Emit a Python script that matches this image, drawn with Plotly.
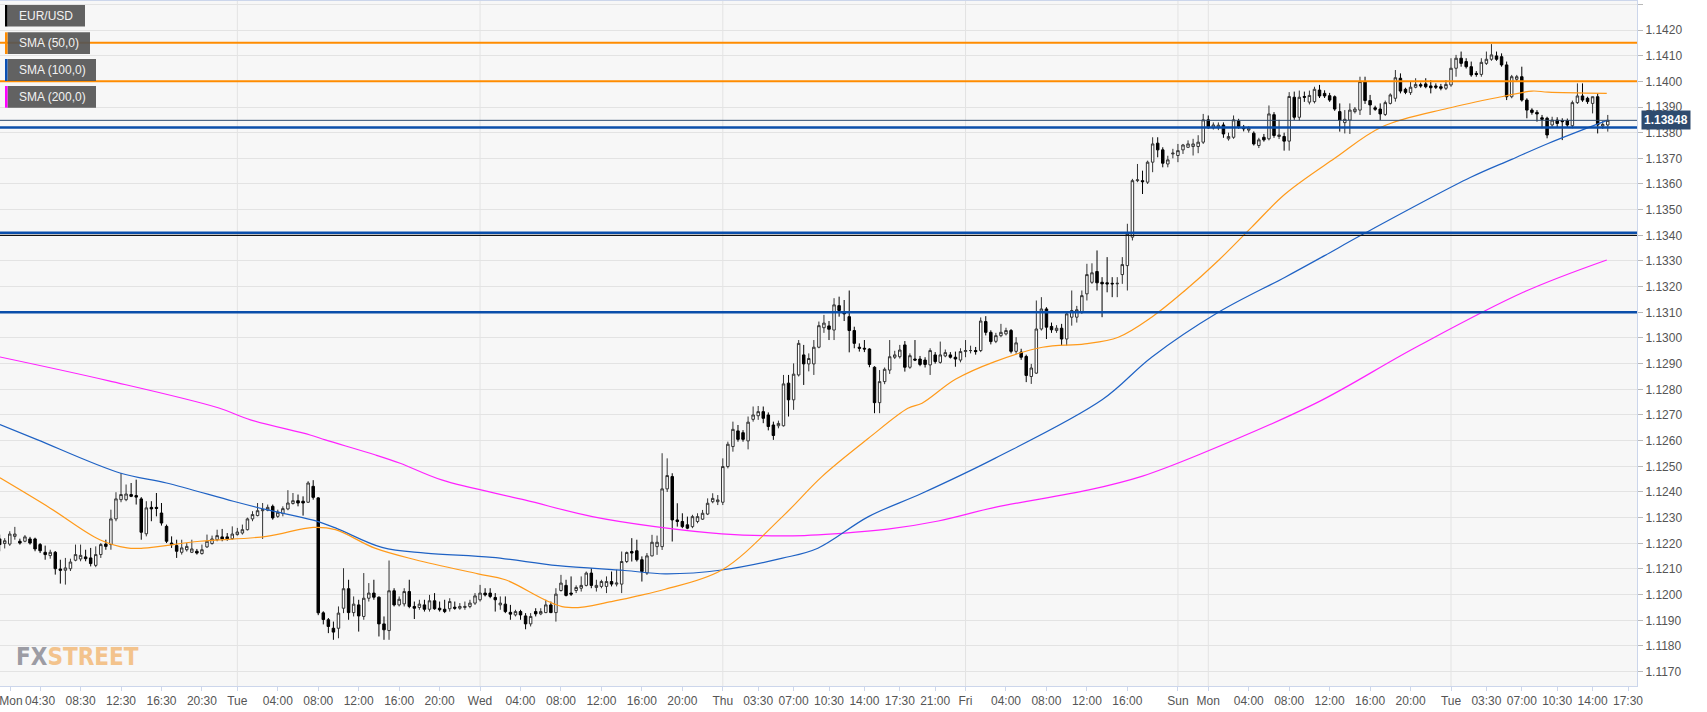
import plotly.graph_objects as go

# ---------------- DATA (EUR/USD, 30-minute bars) ----------------
# x positions: trading hours since Monday 00:00 (weekend gap removed)
bar_hours = 0.5

opens = [
1.12217,1.12199,1.12197,1.12227,1.12208,1.12208,1.12217,1.12217,1.12195,1.12165,
1.12152,1.12165,1.12100,1.12095,1.12101,1.12134,1.12139,1.12147,1.12143,1.12114,
1.12156,1.12197,1.12195,1.12295,1.12370,1.12370,1.12390,1.12386,1.12373,1.12237,
1.12340,1.12340,1.12318,1.12266,1.12201,1.12191,1.12165,1.12175,1.12165,1.12169,
1.12160,1.12186,1.12199,1.12214,1.12225,1.12225,1.12218,1.12234,1.12240,1.12253,
1.12295,1.12308,1.12327,1.12329,1.12344,1.12305,1.12316,1.12334,1.12355,1.12366,
1.12364,1.12360,1.12422,1.12377,1.11929,1.11902,1.11869,1.11869,1.11947,1.12023,
1.11930,1.11960,1.11915,1.11986,1.12006,1.11990,1.11886,1.11860,1.12015,1.11960,
1.11964,1.12012,1.11954,1.11950,1.11960,1.11943,1.11976,1.11947,1.11943,1.11945,
1.11951,1.11947,1.11950,1.11954,1.11967,1.11980,1.12006,1.12006,1.11989,1.11960,
1.11963,1.11931,1.11921,1.11934,1.11917,1.11886,1.11934,1.11925,1.11930,1.11960,
1.11930,1.12016,1.12036,1.12006,1.12016,1.12025,1.12036,1.12084,1.12028,1.12032,
1.12032,1.12051,1.12041,1.12041,1.12129,1.12168,1.12171,1.12136,1.12084,1.12151,
1.12187,1.12187,1.12412,1.12460,1.12291,1.12285,1.12272,1.12265,1.12285,1.12294,
1.12314,1.12362,1.12362,1.12360,1.12499,1.12577,1.12638,1.12631,1.12599,1.12683,
1.12697,1.12713,1.12700,1.12661,1.12658,1.12658,1.12824,1.12759,1.12856,1.12934,
1.12899,1.12899,1.12964,1.13040,1.13047,1.13031,1.13126,1.13103,1.13083,1.13029,
1.12964,1.12960,1.12957,1.12886,1.12748,1.12830,1.12875,1.12925,1.12927,1.12973,
1.12886,1.12918,1.12918,1.12914,1.12895,1.12934,1.12905,1.12930,1.12934,1.12925,
1.12914,1.12947,1.12951,1.12951,1.12951,1.13064,1.13022,1.12987,1.13009,1.13016,
1.13029,1.12948,1.12945,1.12928,1.12850,1.12863,1.13035,1.13113,1.13045,1.13029,
1.13038,1.12996,1.13081,1.13081,1.13100,1.13172,1.13217,1.13259,1.13217,1.13215,
1.13213,1.13211,1.13247,1.13282,1.13393,1.13613,1.13613,1.13607,1.13685,1.13759,
1.13733,1.13678,1.13717,1.13711,1.13733,1.13743,1.13746,1.13746,1.13763,1.13850,
1.13819,1.13819,1.13830,1.13776,1.13782,1.13845,1.13821,1.13810,1.13798,1.13750,
1.13782,1.13776,1.13870,1.13785,1.13785,1.13767,1.13938,1.13860,1.13941,1.13919,
1.13921,1.13966,1.13953,1.13944,1.13940,1.13882,1.13839,1.13849,1.13882,1.13888,
1.13999,1.13925,1.13897,1.13892,1.13871,1.13914,1.13934,1.14012,1.13969,1.13956,
1.13977,1.13987,1.13990,1.13982,1.13982,1.13979,1.13973,1.13986,1.14051,1.14090,
1.14077,1.14057,1.14031,1.14027,1.14070,1.14086,1.14099,1.14096,1.14064,1.13940,
1.14008,1.14018,1.13927,1.13888,1.13879,1.13858,1.13856,1.13830,1.13849,1.13847,
1.13847,1.13827,1.13917,1.13943,1.13934,1.13914,1.13940,1.13826,1.13830]

highs = [
1.12234,1.12220,1.12247,1.12264,1.12218,1.12232,1.12225,1.12222,1.12201,1.12191,
1.12175,1.12170,1.12136,1.12143,1.12140,1.12195,1.12195,1.12175,1.12182,1.12188,
1.12201,1.12214,1.12331,1.12399,1.12474,1.12429,1.12435,1.12448,1.12380,1.12364,
1.12364,1.12396,1.12357,1.12273,1.12227,1.12214,1.12214,1.12201,1.12214,1.12178,
1.12195,1.12234,1.12230,1.12253,1.12256,1.12240,1.12266,1.12260,1.12273,1.12300,
1.12325,1.12357,1.12357,1.12351,1.12351,1.12331,1.12344,1.12407,1.12396,1.12390,
1.12383,1.12442,1.12446,1.12380,1.11935,1.11909,1.11895,1.11954,1.12103,1.12058,
1.11993,1.11980,1.12084,1.12045,1.12058,1.11993,1.11915,1.12133,1.12025,1.11993,
1.12025,1.12058,1.11973,1.11980,1.11980,1.11999,1.12006,1.11973,1.11980,1.11986,
1.11973,1.11967,1.11973,1.11980,1.12006,1.12038,1.12025,1.12025,1.12006,1.11993,
1.11993,1.11960,1.11941,1.11941,1.11928,1.11928,1.11947,1.11947,1.11980,1.11973,
1.12025,1.12077,1.12058,1.12071,1.12036,1.12071,1.12090,1.12103,1.12058,1.12058,
1.12071,1.12090,1.12097,1.12168,1.12168,1.12220,1.12214,1.12149,1.12162,1.12233,
1.12230,1.12551,1.12531,1.12473,1.12356,1.12317,1.12304,1.12311,1.12317,1.12330,
1.12375,1.12395,1.12388,1.12531,1.12596,1.12674,1.12661,1.12641,1.12694,1.12733,
1.12735,1.12733,1.12710,1.12674,1.12678,1.12856,1.12856,1.12901,1.12992,1.12973,
1.12940,1.12992,1.13064,1.13090,1.13066,1.13155,1.13161,1.13148,1.13185,1.13044,
1.12979,1.12992,1.12960,1.12890,1.12875,1.12885,1.12992,1.12950,1.12973,1.12988,
1.12940,1.12992,1.12930,1.12925,1.12960,1.12945,1.12986,1.12955,1.12945,1.12947,
1.12960,1.12992,1.12970,1.12965,1.13080,1.13085,1.13030,1.13020,1.13055,1.13040,
1.13035,1.13003,1.12958,1.12935,1.12899,1.13146,1.13159,1.13120,1.13060,1.13050,
1.13055,1.13100,1.13185,1.13125,1.13185,1.13289,1.13291,1.13341,1.13237,1.13315,
1.13237,1.13237,1.13315,1.13445,1.13620,1.13678,1.13652,1.13691,1.13782,1.13782,
1.13743,1.13710,1.13737,1.13756,1.13756,1.13770,1.13776,1.13790,1.13873,1.13867,
1.13840,1.13840,1.13840,1.13800,1.13867,1.13854,1.13830,1.13825,1.13805,1.13780,
1.13795,1.13906,1.13880,1.13850,1.13800,1.13958,1.13960,1.13964,1.13960,1.13964,
1.13979,1.13986,1.13965,1.13955,1.13945,1.13914,1.13888,1.13914,1.13900,1.14018,
1.14018,1.13947,1.13905,1.13914,1.13925,1.13953,1.14044,1.14031,1.13975,1.13999,
1.14012,1.13995,1.14012,1.14005,1.13992,1.13990,1.14005,1.14090,1.14103,1.14116,
1.14090,1.14077,1.14040,1.14090,1.14116,1.14145,1.14116,1.14109,1.14077,1.14025,
1.14025,1.14057,1.13934,1.13895,1.13888,1.13869,1.13862,1.13862,1.13860,1.13856,
1.13855,1.13925,1.13992,1.13992,1.13940,1.13940,1.13953,1.13845,1.13869]

lows = [
1.12169,1.12180,1.12190,1.12214,1.12195,1.12204,1.12195,1.12169,1.12162,1.12136,
1.12140,1.12078,1.12043,1.12039,1.12092,1.12130,1.12130,1.12130,1.12110,1.12107,
1.12143,1.12175,1.12175,1.12286,1.12360,1.12364,1.12380,1.12351,1.12214,1.12227,
1.12286,1.12305,1.12269,1.12201,1.12182,1.12143,1.12156,1.12168,1.12162,1.12156,
1.12156,1.12182,1.12195,1.12208,1.12208,1.12210,1.12214,1.12230,1.12234,1.12250,
1.12286,1.12305,1.12217,1.12325,1.12292,1.12299,1.12305,1.12329,1.12351,1.12344,
1.12308,1.12357,1.12370,1.11920,1.11884,1.11850,1.11824,1.11830,1.11928,1.11902,
1.11915,1.11856,1.11902,1.11973,1.11980,1.11837,1.11824,1.11824,1.11954,1.11954,
1.11954,1.11947,1.11905,1.11941,1.11934,1.11934,1.11941,1.11934,1.11928,1.11934,
1.11941,1.11941,1.11941,1.11947,1.11960,1.11973,1.11993,1.11986,1.11934,1.11941,
1.11928,1.11902,1.11915,1.11902,1.11865,1.11876,1.11915,1.11920,1.11928,1.11928,
1.11895,1.12012,1.11993,1.11995,1.12006,1.12012,1.12032,1.12025,1.12012,1.12025,
1.12006,1.12032,1.12032,1.12006,1.12123,1.12129,1.12129,1.12051,1.12077,1.12149,
1.12155,1.12174,1.12400,1.12207,1.12265,1.12259,1.12255,1.12259,1.12278,1.12291,
1.12310,1.12356,1.12349,1.12349,1.12492,1.12557,1.12596,1.12596,1.12566,1.12674,
1.12681,1.12668,1.12640,1.12603,1.12648,1.12655,1.12694,1.12720,1.12850,1.12817,
1.12870,1.12856,1.12960,1.13020,1.12992,1.12992,1.13083,1.13066,1.12944,1.12960,
1.12947,1.12945,1.12886,1.12707,1.12707,1.12820,1.12860,1.12918,1.12920,1.12869,
1.12880,1.12910,1.12890,1.12885,1.12856,1.12900,1.12900,1.12925,1.12920,1.12888,
1.12905,1.12925,1.12940,1.12935,1.12945,1.13010,1.12975,1.12980,1.13003,1.13010,
1.12940,1.12938,1.12915,1.12828,1.12821,1.12860,1.13029,1.12996,1.13020,1.13020,
1.12971,1.12971,1.13048,1.13060,1.13094,1.13146,1.13211,1.13185,1.13081,1.13178,
1.13159,1.13159,1.13211,1.13185,1.13380,1.13607,1.13561,1.13600,1.13646,1.13704,
1.13665,1.13665,1.13700,1.13685,1.13717,1.13740,1.13711,1.13720,1.13756,1.13815,
1.13812,1.13810,1.13780,1.13769,1.13776,1.13815,1.13805,1.13800,1.13750,1.13740,
1.13765,1.13770,1.13780,1.13775,1.13730,1.13730,1.13850,1.13847,1.13920,1.13910,
1.13914,1.13935,1.13935,1.13920,1.13885,1.13804,1.13797,1.13795,1.13875,1.13869,
1.13912,1.13869,1.13885,1.13849,1.13865,1.13910,1.13921,1.13953,1.13950,1.13947,
1.13973,1.13975,1.13973,1.13953,1.13970,1.13965,1.13966,1.13979,1.14018,1.14057,
1.14050,1.14018,1.14018,1.14018,1.14064,1.14080,1.14080,1.14057,1.13927,1.13934,
1.14000,1.13921,1.13856,1.13870,1.13843,1.13817,1.13778,1.13823,1.13820,1.13771,
1.13820,1.13817,1.13912,1.13920,1.13912,1.13875,1.13797,1.13815,1.13804]

closes = [
1.12195,1.12210,1.12236,1.12236,1.12201,1.12225,1.12201,1.12178,1.12171,1.12156,
1.12165,1.12101,1.12095,1.12104,1.12127,1.12156,1.12153,1.12140,1.12121,1.12156,
1.12195,1.12188,1.12295,1.12373,1.12390,1.12392,1.12383,1.12380,1.12243,1.12338,
1.12334,1.12336,1.12279,1.12208,1.12195,1.12169,1.12182,1.12188,1.12178,1.12162,
1.12175,1.12208,1.12217,1.12230,1.12217,1.12217,1.12236,1.12244,1.12253,1.12295,
1.12312,1.12327,1.12331,1.12340,1.12299,1.12321,1.12335,1.12357,1.12366,1.12357,
1.12357,1.12435,1.12379,1.11929,1.11903,1.11876,1.11854,1.11928,1.12023,1.11930,
1.11963,1.11917,1.11986,1.12006,1.11990,1.11886,1.11863,1.12015,1.11960,1.11982,
1.12012,1.11954,1.11947,1.11963,1.11943,1.11976,1.11945,1.11941,1.11934,1.11973,
1.11947,1.11954,1.11954,1.11967,1.11995,1.12006,1.11999,1.11993,1.11980,1.11967,
1.11934,1.11924,1.11934,1.11921,1.11886,1.11915,1.11925,1.11934,1.11960,1.11930,
1.12002,1.12045,1.11997,1.12002,1.12028,1.12036,1.12084,1.12036,1.12036,1.12051,
1.12051,1.12041,1.12045,1.12129,1.12164,1.12162,1.12136,1.12090,1.12151,1.12204,
1.12204,1.12412,1.12464,1.12291,1.12285,1.12265,1.12259,1.12304,1.12304,1.12317,
1.12356,1.12375,1.12369,1.12499,1.12586,1.12644,1.12605,1.12605,1.12672,1.12700,
1.12713,1.12687,1.12655,1.12620,1.12667,1.12821,1.12759,1.12859,1.12979,1.12899,
1.12920,1.12964,1.13048,1.13058,1.13034,1.13129,1.13107,1.13094,1.13029,1.12979,
1.12960,1.12957,1.12897,1.12748,1.12830,1.12878,1.12927,1.12934,1.12953,1.12886,
1.12931,1.12914,1.12897,1.12897,1.12951,1.12908,1.12934,1.12943,1.12925,1.12918,
1.12947,1.12951,1.12951,1.12947,1.13066,1.13022,1.12986,1.13009,1.13022,1.13029,
1.12948,1.12981,1.12925,1.12854,1.12883,1.13035,1.13113,1.13042,1.13032,1.13038,
1.12996,1.13094,1.13107,1.13110,1.13165,1.13247,1.13254,1.13215,1.13211,1.13211,
1.13211,1.13213,1.13286,1.13406,1.13613,1.13616,1.13609,1.13685,1.13756,1.13733,
1.13681,1.13694,1.13720,1.13730,1.13752,1.13756,1.13756,1.13763,1.13850,1.13819,
1.13830,1.13829,1.13795,1.13785,1.13850,1.13824,1.13815,1.13817,1.13756,1.13772,
1.13772,1.13873,1.13789,1.13791,1.13767,1.13941,1.13860,1.13938,1.13938,1.13945,
1.13969,1.13943,1.13943,1.13927,1.13892,1.13849,1.13852,1.13888,1.13892,1.13999,
1.13925,1.13908,1.13891,1.13873,1.13917,1.13947,1.14014,1.13962,1.13957,1.13977,
1.13988,1.13982,1.13979,1.13975,1.13977,1.13973,1.13988,1.14051,1.14090,1.14070,
1.14057,1.14025,1.14027,1.14074,1.14086,1.14103,1.14086,1.14064,1.13940,1.14018,
1.14018,1.13927,1.13888,1.13879,1.13873,1.13852,1.13791,1.13849,1.13836,1.13843,
1.13830,1.13917,1.13943,1.13927,1.13921,1.13940,1.13830,1.13832,1.13848]

times = [bar_hours * (i + 1) for i in range(len(opens))]

# Moving averages (hours, price)
sma50_t = [0.53, 5.5, 10.4, 13.1, 14.7, 20.3, 26.9, 31.5, 33.7, 37.6, 41.6, 47.8, 50.5, 56.4, 61.0,
           63.6, 66.3, 71.9, 77.9, 81.8, 86.4, 90.3, 91.7, 95.0, 98.9, 103.6, 107.8, 111.1, 114.4,
           117.7, 121.0, 124.3, 127.6, 132.5, 137.2, 143.7, 149.0, 152.0, 153.6, 159.4]
sma50_v = [1.12455, 1.12337, 1.12214, 1.12182, 1.12181, 1.12208, 1.12227, 1.12262, 1.12253, 1.12181,
           1.12136, 1.12081, 1.12058, 1.11951, 1.11973, 1.11995, 1.12021, 1.12096, 1.12304, 1.12460,
           1.12609, 1.12726, 1.12746, 1.12839, 1.12908, 1.12964, 1.12977, 1.13003, 1.13081, 1.13185,
           1.13302, 1.13432, 1.13561, 1.13700, 1.13823, 1.13895, 1.13940, 1.13962, 1.13958, 1.13953]

sma100_t = [0.53, 4.2, 12.4, 17.0, 23.6, 26.9, 31.5, 33.7, 38.3, 42.6, 49.2, 55.7, 62.3, 66.3, 71.9,
            77.9, 81.4, 86.4, 91.7, 98.9, 109.5, 114.4, 121.0, 127.6, 131.5, 135.1, 145.9, 150.0,
            153.6, 159.5]
sma100_v = [1.12663, 1.12604, 1.12474, 1.12435, 1.12364, 1.12331, 1.12290, 1.12260, 1.12184, 1.12162,
            1.12145, 1.12113, 1.12094, 1.12081, 1.12096, 1.12142, 1.12181, 1.12304, 1.12395, 1.12531,
            1.12759, 1.12925, 1.13100, 1.13237, 1.13321, 1.13400, 1.13625, 1.13696, 1.13758, 1.13849]

sma200_t = [0.53, 11.3, 22.1, 25.3, 31.2, 32.7, 37.6, 40.1, 44.2, 52.4, 59.1, 65.3, 71.9, 78.4, 83.8,
            88.3, 93.3, 98.9, 108.2, 113.5, 119.0, 130.7, 140.4, 151.2, 159.4]
sma200_v = [1.12926, 1.12833, 1.12728, 1.12681, 1.12622, 1.12603, 1.12545, 1.12512, 1.12447, 1.12369,
            1.12304, 1.12265, 1.12237, 1.12229, 1.12239, 1.12255, 1.12287, 1.12340, 1.12408, 1.12462,
            1.12544, 1.12747, 1.12961, 1.13179, 1.13304]

orange_levels = [1.1415, 1.1400]
blue_levels = [1.1382, 1.1341, 1.1310]
black_levels = [1.1340]
last_price = 1.13848

day_lines = [24, 48, 72, 96, 117, 120, 144]

tick_hours = [1.62, 4.5, 8.5, 12.5, 16.5, 20.5, 24, 28, 32, 36, 40, 44, 48, 52, 56, 60, 64, 68,
              72, 75.5, 79, 82.5, 86, 89.5, 93, 96, 100, 104, 108, 112, 117, 120, 124, 128, 132,
              136, 140, 144, 147.5, 151, 154.5, 158, 161.5]
tick_text = ["Mon", "04:30", "08:30", "12:30", "16:30", "20:30", "Tue", "04:00", "08:00", "12:00",
             "16:00", "20:00", "Wed", "04:00", "08:00", "12:00", "16:00", "20:00", "Thu", "03:30",
             "07:00", "10:30", "14:00", "17:30", "21:00", "Fri", "04:00", "08:00", "12:00", "16:00",
             "Sun", "Mon", "04:00", "08:00", "12:00", "16:00", "20:00", "Tue", "03:30", "07:00",
             "10:30", "14:00", "17:30"]

legend_items = [("EUR/USD", "#000000"), ("SMA (50,0)", "#ff8c00"),
                ("SMA (100,0)", "#0a50b4"), ("SMA (200,0)", "#ff00ff")]

# ---------------- FIGURE ----------------
W, H = 1707, 712
ML, MR, MT, MB = 0, 70, 1, 26
PW, PH = W - ML - MR, H - MT - MB

def xp(px):
    return (px - ML) / PW

def yp(py):
    return 1 - (py - MT) / PH

FONT = "Liberation Sans, Arial, sans-serif"

fig = go.Figure()

fig.add_trace(go.Candlestick(
    x=times, open=opens, high=highs, low=lows, close=closes,
    increasing=dict(line=dict(color="#333333", width=1), fillcolor="#ffffff"),
    decreasing=dict(line=dict(color="#000000", width=1), fillcolor="#000000"),
    whiskerwidth=0, name="EUR/USD", hoverinfo="skip"))

fig.add_trace(go.Scatter(x=sma200_t, y=sma200_v, mode="lines",
                         line=dict(color="#ff22ff", width=1.2, shape="spline"), name="SMA 200"))
fig.add_trace(go.Scatter(x=sma100_t, y=sma100_v, mode="lines",
                         line=dict(color="#1f62c4", width=1.2, shape="spline"), name="SMA 100"))
fig.add_trace(go.Scatter(x=sma50_t, y=sma50_v, mode="lines",
                         line=dict(color="#ff9a1a", width=1.2, shape="spline"), name="SMA 50"))

shapes = []
for d in day_lines:
    shapes.append(dict(type="line", xref="x", yref="paper", x0=d, x1=d, y0=0, y1=1,
                       line=dict(color="#e3e3e3", width=1), layer="below"))
for lv in orange_levels:
    shapes.append(dict(type="line", xref="paper", yref="y", x0=0, x1=1, y0=lv, y1=lv,
                       line=dict(color="#ff8c00", width=2), layer="above"))
for lv in blue_levels:
    shapes.append(dict(type="line", xref="paper", yref="y", x0=0, x1=1, y0=lv, y1=lv,
                       line=dict(color="#0a4eaa", width=2.5), layer="above"))
for lv in black_levels:
    shapes.append(dict(type="line", xref="paper", yref="y", x0=0, x1=1, y0=lv, y1=lv,
                       line=dict(color="#111111", width=1.2), layer="above"))
shapes.append(dict(type="line", xref="paper", yref="y", x0=0, x1=1, y0=last_price, y1=last_price,
                   line=dict(color="#2d4a6e", width=1), layer="above"))

annotations = []
# legend boxes
box_rows = [(5, 26.5, 85), (32.3, 54, 90), (59, 81, 96), (86, 107.7, 96)]
for (label, col), (top, bot, right) in zip(legend_items, box_rows):
    shapes.append(dict(type="rect", xref="paper", yref="paper", x0=xp(7.5), x1=xp(right),
                       y0=yp(bot), y1=yp(top), fillcolor="rgba(85,85,85,0.92)",
                       line=dict(width=0), layer="above"))
    shapes.append(dict(type="rect", xref="paper", yref="paper", x0=xp(5), x1=xp(7.5),
                       y0=yp(bot), y1=yp(top), fillcolor=col, line=dict(width=0), layer="above"))
    annotations.append(dict(xref="paper", yref="paper", x=xp(17), y=yp((top + bot) / 2),
                            xanchor="left", yanchor="middle", text=label, showarrow=False,
                            font=dict(family=FONT, size=12, color="#f2f2f2")))

# last price tag
annotations.append(dict(xref="paper", yref="y", x=1, y=last_price, xanchor="left",
                        yanchor="middle", xshift=4, text="<b>1.13848</b>", showarrow=False,
                        bgcolor="#2e4b6e", borderpad=2,
                        font=dict(family=FONT, size=12, color="#ffffff")))
# logo
annotations.append(dict(xref="paper", yref="paper", x=xp(14), y=yp(657), xanchor="left",
                        yanchor="middle", showarrow=False,
                        text="<b><span style='color:#9c9ca4'>FX</span>"
                             "<span style='color:#f3c38c'>STREET</span></b>",
                        font=dict(family="Liberation Sans Narrow, DejaVu Sans Condensed, sans-serif",
                                  size=24)))

fig.update_layout(
    width=W, height=H,
    margin=dict(l=ML, r=MR, t=MT, b=MB, pad=0),
    paper_bgcolor="#ffffff", plot_bgcolor="#f7f7f7",
    showlegend=False, hovermode=False,
    shapes=shapes, annotations=annotations,
    font=dict(family=FONT, size=12, color="#555555"),
    xaxis=dict(range=[0.534, 162.39], rangeslider=dict(visible=False),
               tickmode="array", tickvals=tick_hours, ticktext=tick_text,
               tickangle=0, ticklabeloverflow="allow",
               showgrid=False, zeroline=False, showline=True, linecolor="#ccd6eb",
               linewidth=1, mirror=True, ticks="outside", ticklen=4, tickcolor="#ccd6eb",
               tickfont=dict(family=FONT, size=12, color="#555555")),
    yaxis=dict(range=[1.11644, 1.14313], side="right", dtick=0.001, tick0=1.117,
               tickformat=".4f", showgrid=True, gridcolor="#e3e3e3", gridwidth=1,
               zeroline=False, showline=True, linecolor="#ccd6eb", linewidth=1, mirror=True,
               ticks="outside", ticklen=5, tickcolor="#b8b8b8",
               tickfont=dict(family=FONT, size=12, color="#555555")),
)

fig.write_html("out.html", config={"displayModeBar": False},
               post_script="document.body.style.margin='0';document.body.style.overflow='hidden';")
